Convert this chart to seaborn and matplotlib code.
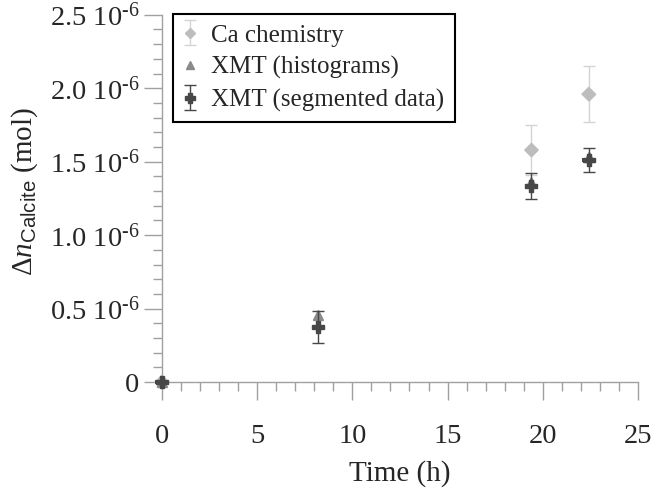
import matplotlib
matplotlib.use("Agg")
import matplotlib.pyplot as plt
import seaborn as sns
import pandas as pd
import numpy as np
from matplotlib.ticker import MultipleLocator, FixedLocator

# data
time_h = [0.0, 8.2, 19.4, 22.4]
ca_chem = [0.0, np.nan, 1.58e-6, 1.96e-6]
ca_err = [0.0, 0.0, 0.17e-6, 0.19e-6]
xmt_hist = [0.0, 0.455e-6, 1.36e-6, 1.53e-6]
xmt_seg = [0.0, 0.375e-6, 1.335e-6, 1.51e-6]
seg_err = [0.0, 0.11e-6, 0.09e-6, 0.08e-6]
ytick_vals = [0, 0.5e-6, 1.0e-6, 1.5e-6, 2.0e-6, 2.5e-6]
ytick_labels = ["0", "0.5 10$^{\u2010 6}$", "1.0 10$^{\u2010 6}$", "1.5 10$^{\u2010 6}$",
                "2.0 10$^{\u2010 6}$", "2.5 10$^{\u2010 6}$"]
series_names = ["Ca chemistry", "XMT (histograms)", "XMT (segmented data)"]

sns.set_style("ticks")
plt.rcParams["font.family"] = ["Liberation Serif", "DejaVu Serif"]
plt.rcParams["mathtext.fontset"] = "custom"
plt.rcParams["mathtext.rm"] = "Liberation Serif"
plt.rcParams["mathtext.it"] = "Liberation Serif:italic"
plt.rcParams["mathtext.sf"] = "Liberation Sans"

fig = plt.figure(figsize=(6.6, 4.93), dpi=100)
ax = fig.add_axes([0.245, 0.225, 0.722, 0.745])

c_ca = "#bdbdbd"
c_ca_err = "#d4d4d4"
c_hist = "#8a8a8a"
c_seg = "#474747"

df = pd.DataFrame({"t": time_h, "ca": ca_chem, "hist": xmt_hist, "seg": xmt_seg})

h1 = ax.errorbar(time_h, ca_chem, yerr=ca_err, fmt="D", color=c_ca, ms=6,
                 ecolor=c_ca_err, elinewidth=1, capsize=4, capthick=1,
                 label=series_names[0], zorder=3, clip_on=False)
h2 = ax.errorbar(time_h, xmt_hist, fmt="^", color=c_hist, ms=7,
                 label=series_names[1], zorder=4, clip_on=False)
h3 = ax.errorbar(time_h, xmt_seg, yerr=seg_err, fmt="P", color=c_seg, ms=9,
                 ecolor=c_seg, elinewidth=1, capsize=4, capthick=1,
                 label=series_names[2], zorder=5, clip_on=False)

sns.scatterplot(data=df, x="t", y="ca", marker="D", s=60, color=c_ca,
                edgecolor="none", ax=ax, zorder=3, legend=False, clip_on=False)
sns.scatterplot(data=df, x="t", y="hist", marker="^", s=55, color=c_hist,
                edgecolor="none", ax=ax, zorder=4, legend=False, clip_on=False)
sns.scatterplot(data=df, x="t", y="seg", marker="P", s=85, color=c_seg,
                edgecolor="none", ax=ax, zorder=5, legend=False, clip_on=False)

ax.set_xlim(0, 25)
ax.set_ylim(0, 2.5e-6)
ax.xaxis.set_major_locator(MultipleLocator(5))
ax.xaxis.set_minor_locator(MultipleLocator(1))
ax.yaxis.set_major_locator(FixedLocator(ytick_vals))
ax.set_yticklabels(ytick_labels)
ax.yaxis.set_minor_locator(MultipleLocator(0.1e-6))

sns.despine(ax=ax)
for s in ["left", "bottom"]:
    ax.spines[s].set_color("#a0a0a0")
    ax.spines[s].set_linewidth(1)
ax.tick_params(which="major", direction="out", length=13, width=1,
               color="#a0a0a0", labelsize=20.5)
ax.tick_params(which="minor", direction="out", length=6.5, width=1, color="#a0a0a0")
ax.tick_params(axis="x", which="major", pad=17)
ax.tick_params(axis="y", which="major", pad=3)

ax.set_xlabel("Time (h)", fontsize=21, labelpad=8)
ax.set_ylabel(r"$\mathrm{\Delta} \mathit{n}_{\mathsf{Calcite}}$ (mol)", fontsize=21)
ax.yaxis.set_label_coords(-0.255, 0.52)

leg = ax.legend(handles=[h1, h2, h3], loc="upper left", bbox_to_anchor=(0.023, 1.002),
                frameon=True, fancybox=False, fontsize=18, handlelength=0.6,
                handletextpad=0.55, borderpad=0.4, labelspacing=0.38,
                borderaxespad=0.0, markerscale=0.8)
leg.get_frame().set_edgecolor("black")
leg.get_frame().set_linewidth(1.5)
leg.get_frame().set_alpha(1)

fig.savefig("out.png", dpi=100)
